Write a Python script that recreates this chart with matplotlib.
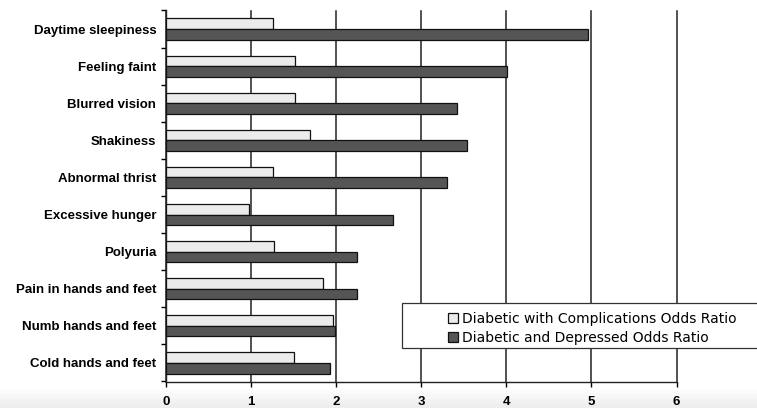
import numpy as np
import matplotlib
matplotlib.use("Agg")
import matplotlib.pyplot as plt
from matplotlib.patches import Rectangle

categories = ["Daytime sleepiness", "Feeling faint", "Blurred vision", "Shakiness",
              "Abnormal thrist", "Excessive hunger", "Polyuria",
              "Pain in hands and feet", "Numb hands and feet", "Cold hands and feet"]
complications = [1.26, 1.52, 1.52, 1.69, 1.26, 0.97, 1.27, 1.85, 1.96, 1.51]
depressed = [4.96, 4.01, 3.42, 3.54, 3.30, 2.67, 2.24, 2.24, 1.99, 1.93]
series_names = ["Diabetic with Complications Odds Ratio", "Diabetic and Depressed Odds Ratio"]
xticks = [0, 1, 2, 3, 4, 5, 6]

W, H = 757, 408
fig = plt.figure(figsize=(W / 100, H / 100), dpi=100)

# subtle background gradient at the bottom
bg = fig.add_axes([0, 0, 1, 1], zorder=-10)
grad = np.ones((H, 1))
rows = np.arange(H)
start = 386
grad[rows >= start, 0] = 1 - 0.07 * np.clip((rows[rows >= start] - start) / 20, 0, 1)
bg.imshow(grad, aspect="auto", cmap="gray", vmin=0, vmax=1, extent=[0, 1, 0, 1])
bg.axis("off")

ax = fig.add_axes([166 / W, 1 - 381.5 / H, (676.5 - 166) / W, (381.5 - 10.5) / H])
ax.patch.set_alpha(0)

n = len(categories)
y = np.arange(n)
h = 0.285
ax.barh(y - h / 2, complications, height=h, color="#ebebeb", edgecolor="#111111", linewidth=0.9, zorder=3,
        label=series_names[0])
ax.barh(y + h / 2, depressed, height=h, color="#555555", edgecolor="#111111", linewidth=0.9, zorder=3,
        label=series_names[1])

ax.set_xlim(0, 6)
ax.set_ylim(n - 0.5, -0.5)

ax.set_yticks(y)
ax.set_yticklabels(categories, fontsize=9.5, fontweight="bold", family="Liberation Sans")
ax.tick_params(axis="y", which="major", length=0, pad=7)
ax.set_yticks(np.arange(-0.5, n, 1), minor=True)
ax.tick_params(axis="y", which="minor", length=3.5, width=1, direction="out")

ax.set_xticks(xticks)
ax.set_xticklabels([str(t) for t in xticks], fontsize=9.5, fontweight="bold", family="Liberation Sans")
ax.tick_params(axis="x", length=3.5, width=1, direction="out", pad=7)

ax.grid(axis="x", color="#222222", linewidth=1.1, zorder=0)
for gl in ax.get_xgridlines():
    gl.set_clip_on(False)
for s in ["top", "right"]:
    ax.spines[s].set_visible(False)
ax.spines["left"].set_linewidth(1)
ax.spines["bottom"].set_linewidth(1)
ax.spines["left"].set_color("#222222")
ax.spines["bottom"].set_color("#222222")

# legend frame
fig.patches.append(Rectangle((402 / W, 1 - 348 / H), (770 - 402) / W, (348 - 303) / H,
                             transform=fig.transFigure, facecolor="white", edgecolor="#333333",
                             linewidth=0.9, zorder=5))
leg = fig.legend(loc="upper left", bbox_to_anchor=(437 / W, 1 - 301 / H), frameon=False,
                 fontsize=10, handlelength=0.7, handleheight=0.7, handletextpad=0.3,
                 labelspacing=0.35, borderpad=0.3)
leg.set_zorder(6)

fig.savefig("out.png", dpi=100)
